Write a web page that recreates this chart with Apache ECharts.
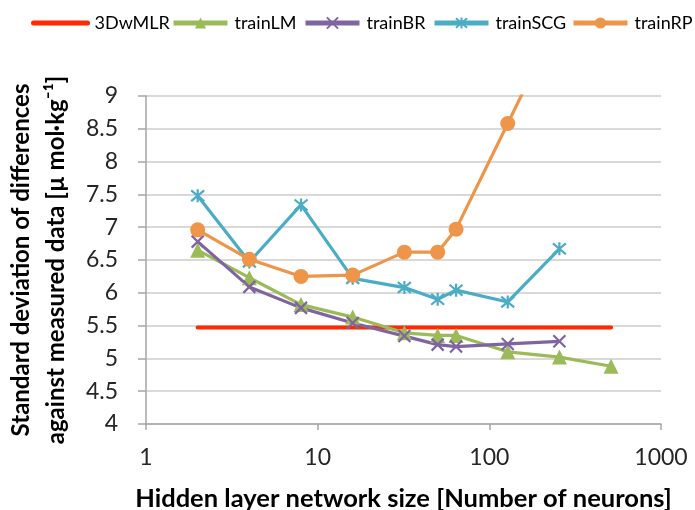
<!DOCTYPE html>
<html>
<head>
<meta charset="utf-8">
<script src="https://cdn.jsdelivr.net/npm/echarts@6/dist/echarts.min.js"></script>
<style>
  html, body { margin: 0; padding: 0; background: #fff; }
  #chart { width: 695px; height: 510px; }
</style>
</head>
<body>
<div id="chart"></div>
<script>
// Hidden layer sizes (number of neurons)
const neurons = [2, 4, 8, 16, 32, 50, 64, 128, 256, 512];

// Standard deviation of differences for each method
const dwmlr    = [5.47, null, null, null, null, null, null, null, null, 5.47];
const trainLM  = [6.65, 6.23, 5.82, 5.63, 5.39, 5.35, 5.35, 5.10, 5.02, 4.88];
const trainBR  = [6.78, 6.09, 5.77, 5.54, 5.34, 5.21, 5.18, 5.22, 5.26];
const trainSCG = [7.48, 6.47, 7.34, 6.22, 6.08, 5.90, 6.04, 5.86, 6.67];
const trainRP  = [6.96, 6.51, 6.25, 6.27, 6.62, 6.62, 6.97, 8.58, 10.2];

const seriesNames = ['3DwMLR', 'trainLM', 'trainBR', 'trainSCG', 'trainRP'];
const xTicks = [1, 10, 100, 1000];
const yTicks = [4, 4.5, 5, 5.5, 6, 6.5, 7, 7.5, 8, 8.5, 9];

const FONT = 'Lato';
const COLORS = ['#ff2a00', '#9bbb59', '#8064a2', '#4bacc6', '#ee9549'];
const pairs = (ys) => ys.map((v, i) => [neurons[i], v]).filter(p => p[1] !== null);

const crossPath = 'path://M0,0L10,10M10,0L0,10';
const starPath = 'path://M0,0L10,10M10,0L0,10M5,-1L5,11';

const chart = echarts.init(document.getElementById('chart'), null, { renderer: 'canvas' });

function lineSeries(idx, data, symbol, size, strokeOnly) {
  const color = COLORS[idx];
  return {
    name: seriesNames[idx],
    type: 'line',
    data: pairs(data),
    symbol: symbol,
    symbolSize: size,
    clip: true,
    lineStyle: { color: color, width: 3.2 },
    itemStyle: strokeOnly
      ? { color: color, borderColor: color, borderWidth: 2.2 }
      : { color: color, borderWidth: 0 },
    emphasis: { disabled: true },
    z: 2
  };
}

// one legend block per series, laid out left to right
const legendLefts = [26, 166, 298, 427, 566];
const legends = seriesNames.map((n, i) => {
  const item = { name: n, lineStyle: { width: 5 } };
  if (i === 0) item.itemStyle = { opacity: 0 };
  return {
    top: 9,
    left: legendLefts[i],
    itemWidth: 54,
    itemHeight: 14,
    itemGap: 0,
    selectedMode: false,
    textStyle: { fontFamily: FONT, fontSize: 18, color: '#000', padding: [0, 0, 0, 2] },
    data: [item]
  };
});

chart.setOption({
  animation: false,
  textStyle: { fontFamily: FONT },
  legend: legends,
  grid: { left: 146, right: 34, top: 96, bottom: 86, outerBoundsMode: 'none', containLabel: false },
  xAxis: {
    type: 'log',
    logBase: 10,
    min: xTicks[0],
    max: xTicks[xTicks.length - 1],
    name: 'Hidden layer network size [Number of neurons]',
    nameLocation: 'middle',
    nameGap: 62,
    nameTextStyle: { fontFamily: FONT, fontSize: 25.5, fontWeight: 'bold', color: '#000' },
    axisLine: { show: true, lineStyle: { color: '#a6a6a6', width: 1.5 } },
    axisTick: { show: true, inside: false, length: 6, lineStyle: { color: '#a6a6a6', width: 1.5 } },
    axisLabel: { fontSize: 23, color: '#262626', margin: 22, formatter: (v) => String(v) },
    splitLine: { show: false },
    minorTick: { show: false }
  },
  yAxis: {
    type: 'value',
    min: yTicks[0],
    max: yTicks[yTicks.length - 1],
    interval: 0.5,
    name: 'Standard deviation of differences\nagainst measured data [µ mol·kg⁻¹]',
    nameLocation: 'middle',
    nameGap: 72,
    nameTextStyle: { fontFamily: FONT, fontSize: 24, fontWeight: 'bold', color: '#000', lineHeight: 35 },
    axisLine: { show: true, lineStyle: { color: '#a6a6a6', width: 1.5 } },
    axisTick: { show: true, inside: false, length: 8, lineStyle: { color: '#a6a6a6', width: 1.5 } },
    axisLabel: { fontSize: 23, color: '#262626', margin: 28 },
    splitLine: { show: true, lineStyle: { color: '#d9d9d9', width: 2 } }
  },
  series: [
    Object.assign(lineSeries(0, dwmlr, 'circle', 0, false),
      { connectNulls: true, showSymbol: false, lineStyle: { color: COLORS[0], width: 4, cap: 'round' } }),
    lineSeries(1, trainLM, 'triangle', 15, false),
    lineSeries(2, trainBR, crossPath, 12, true),
    lineSeries(3, trainSCG, starPath, 13, true),
    lineSeries(4, trainRP, 'circle', 15, false)
  ]
});
</script>
</body>
</html>
